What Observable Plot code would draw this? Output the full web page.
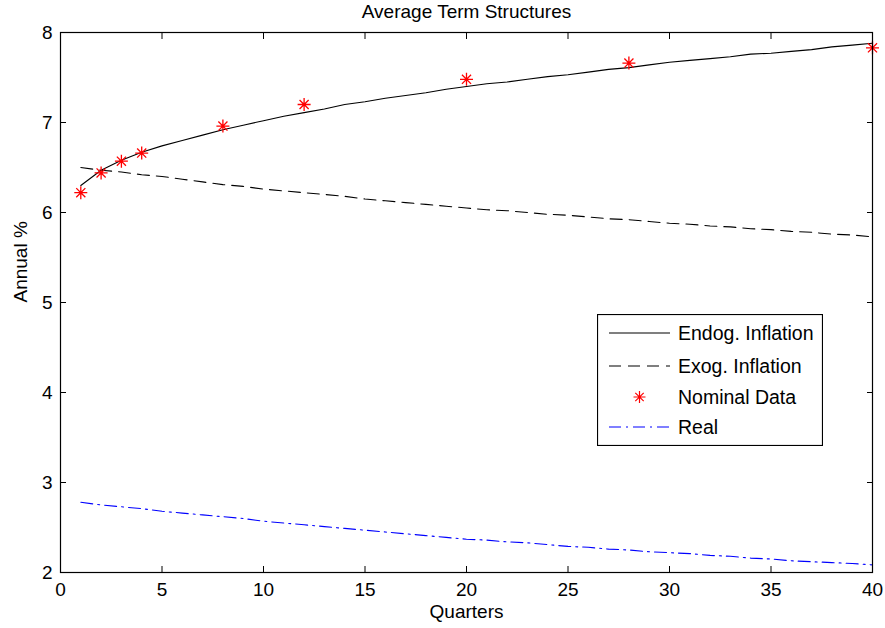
<!DOCTYPE html>
<html>
<head>
<meta charset="utf-8">
<script src="https://cdn.jsdelivr.net/npm/d3@7"></script>
<script src="https://cdn.jsdelivr.net/npm/@observablehq/plot@0.6"></script>
<style>
  body { margin: 0; background: #fff; font-family: "Liberation Sans", Arial, Helvetica, sans-serif; }
  #chart { position: relative; width: 885px; height: 628px; }
  #legend { position: absolute; left: 597px; top: 314px; }
</style>
</head>
<body>
<div id="chart"></div>
<script>
// Maturity in quarters (1..40)
const quarters = d3.range(1, 41);

// Model-implied average yields, annual %
const endog = [6.30, 6.47, 6.58, 6.67, 6.74, 6.80, 6.86, 6.92, 6.97, 7.02,
               7.07, 7.11, 7.15, 7.20, 7.23, 7.27, 7.30, 7.33, 7.37, 7.40,
               7.43, 7.45, 7.48, 7.51, 7.53, 7.56, 7.59, 7.61, 7.64, 7.67,
               7.69, 7.71, 7.73, 7.76, 7.77, 7.79, 7.81, 7.84, 7.86, 7.88];
const exog  = [6.50, 6.47, 6.45, 6.42, 6.40, 6.37, 6.34, 6.31, 6.29, 6.26,
               6.24, 6.22, 6.20, 6.18, 6.15, 6.13, 6.11, 6.09, 6.07, 6.05,
               6.03, 6.02, 6.00, 5.98, 5.97, 5.95, 5.93, 5.92, 5.90, 5.88,
               5.87, 5.85, 5.84, 5.82, 5.81, 5.79, 5.78, 5.76, 5.75, 5.73];
const real  = [2.78, 2.75, 2.73, 2.71, 2.68, 2.66, 2.64, 2.62, 2.60, 2.57,
               2.55, 2.53, 2.51, 2.49, 2.47, 2.45, 2.43, 2.41, 2.39, 2.37,
               2.36, 2.34, 2.33, 2.31, 2.29, 2.28, 2.26, 2.25, 2.23, 2.22,
               2.21, 2.19, 2.18, 2.16, 2.15, 2.13, 2.12, 2.11, 2.10, 2.085];

// Observed nominal yields
const nominalQuarters = [1, 2, 3, 4, 8, 12, 20, 28, 40];
const nominalValues   = [6.22, 6.44, 6.57, 6.66, 6.96, 7.20, 7.48, 7.66, 7.83];

const seriesNames = ["Endog. Inflation", "Exog. Inflation", "Nominal Data", "Real"];
const xTicks = d3.range(0, 41, 5);
const yTicks = d3.range(2, 9);

const FONT = '"Liberation Sans", Arial, Helvetica, sans-serif';

// Eight-spoke star marker (plus combined with a cross)
const star = {
  draw(context, size) {
    const r = Math.sqrt(size / Math.PI);
    const d = r * 0.7;
    context.moveTo(-r, 0); context.lineTo(r, 0);
    context.moveTo(0, -r); context.lineTo(0, r);
    context.moveTo(-d, -d); context.lineTo(d, d);
    context.moveTo(-d, d); context.lineTo(d, -d);
  }
};

const toRows = (vals) => quarters.map((q, i) => ({q, v: vals[i]}));
const nominal = nominalQuarters.map((q, i) => ({q, v: nominalValues[i]}));

const chart = Plot.plot({
  width: 885,
  height: 628,
  marginLeft: 60,
  marginRight: 13,
  marginTop: 32,
  marginBottom: 56,
  style: {fontFamily: FONT, fontSize: "19px", color: "#000", background: "#fff", overflow: "visible"},
  x: {domain: [0, 40]},
  y: {domain: [2, 8]},
  marks: [
    Plot.lineY(toRows(endog), {x: "q", y: "v", stroke: "#000", strokeWidth: 1.1}),
    Plot.lineY(toRows(exog), {x: "q", y: "v", stroke: "#000", strokeWidth: 1.1, strokeDasharray: "12,7"}),
    Plot.lineY(toRows(real), {x: "q", y: "v", stroke: "#0000ff", strokeWidth: 1.1, strokeDasharray: "12,5,2,5"}),
    Plot.dot(nominal, {x: "q", y: "v", symbol: star, r: 6.5, stroke: "#ff0000", strokeWidth: 1.3}),
    Plot.frame({stroke: "#000", strokeWidth: 1.2}),
    Plot.axisX({ticks: xTicks, tickSize: -6, tickPadding: 16, tickFormat: d3.format("d"), label: null, fontSize: 19}),
    Plot.axisX({anchor: "top", ticks: xTicks, tickSize: -6, tickFormat: () => "", label: null}),
    Plot.axisY({ticks: yTicks, tickSize: -6, tickPadding: 14, tickFormat: d3.format("d"), label: null, fontSize: 19}),
    Plot.axisY({anchor: "right", ticks: yTicks, tickSize: -6, tickFormat: () => "", label: null}),
    Plot.text(["Average Term Structures"], {text: d => d, frameAnchor: "top", lineAnchor: "middle", dy: -21, fontSize: 19}),
    Plot.text(["Quarters"], {text: d => d, frameAnchor: "bottom", lineAnchor: "middle", dy: 39, fontSize: 19}),
    Plot.text(["Annual %"], {text: d => d, frameAnchor: "left", dx: -40, rotate: -90, fontSize: 19})
  ]
});

const container = document.getElementById("chart");
container.appendChild(chart);

// Legend box
const legendStyles = [
  {stroke: "#000", dash: null, marker: false},
  {stroke: "#000", dash: "12,7", marker: false},
  {stroke: "#ff0000", dash: null, marker: true},
  {stroke: "#0000ff", dash: "12,5,2,5", marker: false}
];
const lw = 226, lh = 132, rowY = [19, 52, 83, 113];
const legend = d3.select(container).append("svg")
  .attr("id", "legend")
  .attr("width", lw).attr("height", lh);
legend.append("rect")
  .attr("x", 0.5).attr("y", 0.5).attr("width", lw - 1).attr("height", lh - 1)
  .attr("fill", "#fff").attr("stroke", "#000").attr("stroke-width", 1.2);
seriesNames.forEach((name, i) => {
  const s = legendStyles[i], y = rowY[i];
  if (s.marker) {
    const p = d3.path();
    star.draw(p, Math.PI * 36);
    legend.append("path").attr("d", p.toString())
      .attr("transform", `translate(${(12 + 73) / 2},${y})`)
      .attr("fill", "none").attr("stroke", s.stroke).attr("stroke-width", 1.2);
  } else {
    legend.append("line")
      .attr("x1", 12).attr("x2", 73).attr("y1", y).attr("y2", y)
      .attr("stroke", s.stroke).attr("stroke-width", 1.1)
      .attr("stroke-dasharray", s.dash);
  }
  legend.append("text")
    .attr("x", 81).attr("y", y).attr("dy", "0.35em")
    .attr("font-family", FONT).attr("font-size", 19.5)
    .text(name);
});
</script>
</body>
</html>
